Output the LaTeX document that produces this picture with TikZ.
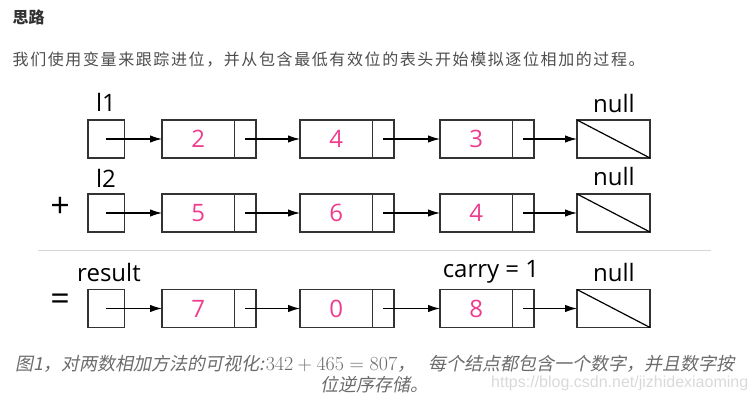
\RequirePackage{fix-cm}
\documentclass[tikz,border=0pt]{standalone}
\usepackage{fontspec}
\usepackage{tikz}
\usetikzlibrary{arrows.meta}

\newfontfamily\figfont{Open Sans}
\newfontfamily\cjkfont{Noto Sans CJK SC}
\newfontfamily\cjkspaced[LetterSpace=10]{Noto Sans CJK SC}
\newfontfamily\capfont[FakeSlant=0.2]{Noto Sans CJK SC}
\newfontfamily\markfont{Liberation Sans}

\definecolor{boxc}{HTML}{333333}
\definecolor{digit}{HTML}{EE3D8E}
\definecolor{headc}{HTML}{333333}
\definecolor{bodyc}{HTML}{4D4D4D}
\definecolor{capc}{HTML}{6B6B6B}
\definecolor{sepc}{HTML}{D6D6D6}
\definecolor{markc}{HTML}{D9D9D9}

\newcommand\lblfont{\figfont\fontsize{24}{28}\selectfont}
\newcommand\digitfont{\figfont\fontsize{24}{28}\selectfont}
\newcommand\capsum{{\rmfamily\upshape\fontsize{20}{24}\selectfont 342\hspace{4.4pt}+\hspace{4.4pt}465\hspace{5.6pt}=\hspace{5.6pt}807}}

\begin{document}
\begin{tikzpicture}[x=1pt,y=-1pt,
	box/.style={draw=boxc,line width=1.5pt,inner sep=0pt,outer sep=0pt,minimum height=38pt},
	headbox/.style={box,minimum width=36.5pt},
	valbox/.style={box,minimum width=72.5pt,text=digit,font=\digitfont},
	ptrbox/.style={box,minimum width=21.5pt},
	nullbox/.style={box,minimum width=73pt},
	lbl/.style={font=\lblfont,inner sep=0pt},
	ptr/.style={-{Latex[length=12pt,width=7.5pt]},line width=1.2pt,black}]
	\useasboundingbox (0,0) rectangle (756,401);
	
	% text above
	\node[anchor=west,inner sep=0pt,text=headc,font=\cjkfont\bfseries\fontsize{16}{20}\selectfont] (title) at (12.5,17.5) {思路};
	\node[anchor=west,inner sep=0pt,text=bodyc,font=\cjkspaced\fontsize{16}{20}\selectfont] (intro) at (12.5,60) {我们使用变量来跟踪进位，并从包含最低有效位的表头开始模拟逐位相加的过程。};
	
	% l1
	\node[lbl] (l1) at (106,102) {l1};
	\node[headbox] (h1) at (106.25,139) {};
	\node[valbox] (v11) at (198.25,139) {2};
	\node[ptrbox] (p11) at (245.25,139) {};
	\node[valbox] (v12) at (336.25,139) {4};
	\node[ptrbox] (p12) at (383.25,139) {};
	\node[valbox] (v13) at (476.25,139) {3};
	\node[ptrbox] (p13) at (523.25,139) {};
	\node[nullbox] (n1) at (613.5,139) {};
	\node[lbl] (null1) at (614,104) {null};
	
	% l2
	\node[lbl,font=\figfont\fontsize{34}{40}\selectfont] (plus) at (60,207) {+};
	\node[lbl] (l2) at (106,178) {l2};
	\node[headbox] (h2) at (106.25,213) {};
	\node[valbox] (v21) at (198.25,213) {5};
	\node[ptrbox] (p21) at (245.25,213) {};
	\node[valbox] (v22) at (336.25,213) {6};
	\node[ptrbox] (p22) at (383.25,213) {};
	\node[valbox] (v23) at (476.25,213) {4};
	\node[ptrbox] (p23) at (523.25,213) {};
	\node[nullbox] (n2) at (613.5,213) {};
	\node[lbl] (null2) at (614,177) {null};
	
	\draw[sepc,line width=1.3pt] (38,250.7) -- (711,250.7);
	
	% result
	\node[lbl,font=\figfont\fontsize{34}{40}\selectfont] (eq) at (60,302) {=};
	\node[lbl] (res) at (109,272) {result};
	\node[headbox] (h3) at (106.25,308.5) {};
	\node[valbox] (v31) at (198.25,308.5) {7};
	\node[ptrbox] (p31) at (245.25,308.5) {};
	\node[valbox] (v32) at (336.25,308.5) {0};
	\node[ptrbox] (p32) at (383.25,308.5) {};
	\node[valbox] (v33) at (476.25,308.5) {8};
	\node[ptrbox] (p33) at (523.25,308.5) {};
	\node[nullbox] (n3) at (613.5,308.5) {};
	\node[lbl] (carry) at (491,272) {carry = 1};
	\node[lbl] (null3) at (614,273) {null};
	
	\path [ptr] (h1.center) edge (v11.west);
	\path [ptr] (p11.center) edge (v12.west);
	\path [ptr] (p12.center) edge (v13.west);
	\path [ptr] (p13.center) edge (n1.west);
	\path [ptr] (h2.center) edge (v21.west);
	\path [ptr] (p21.center) edge (v22.west);
	\path [ptr] (p22.center) edge (v23.west);
	\path [ptr] (p23.center) edge (n2.west);
	\path [ptr] (h3.center) edge (v31.west);
	\path [ptr] (p31.center) edge (v32.west);
	\path [ptr] (p32.center) edge (v33.west);
	\path [ptr] (p33.center) edge (n3.west);
	
	\path [-,line width=1.2pt] (n1.north west) edge (n1.south east);
	\path [-,line width=1.2pt] (n2.north west) edge (n2.south east);
	\path [-,line width=1.2pt] (n3.north west) edge (n3.south east);
	
	% caption
	\node[align=center,inner sep=0pt,text=capc,font=\capfont\fontsize{18}{21}\selectfont] (cap) at (375,374.5) {图1，对两数相加方法的可视化:\hspace{1pt}\capsum，\hspace{13pt}每个结点都包含一个数字，并且数字按\\位逆序存储。};
	\node[anchor=west,inner sep=0pt,text=markc,font=\markfont\fontsize{16}{18}\selectfont] (mark) at (491,383) {https://blog.csdn.net/jizhidexiaoming};
\end{tikzpicture}
\end{document}
